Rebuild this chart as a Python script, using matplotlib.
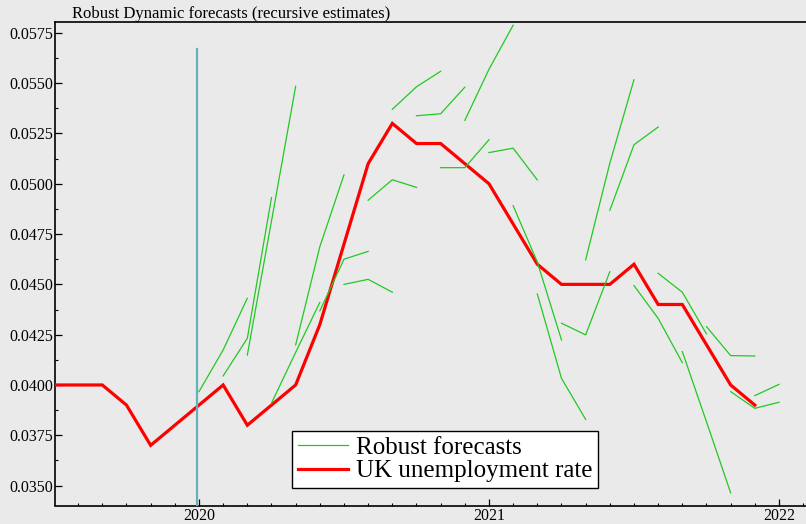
import numpy as np
import matplotlib
matplotlib.use("Agg")
import matplotlib.pyplot as plt
from matplotlib.ticker import MultipleLocator, FixedLocator
from matplotlib.lines import Line2D

plt.rcParams['font.family'] = ['Liberation Serif', 'DejaVu Serif']

# UK unemployment rate, monthly from July 2019 to December 2021
rate_start = 2019.5
uk_rate = [0.040, 0.040, 0.040, 0.039, 0.037, 0.038,
           0.039, 0.040, 0.038, 0.039, 0.040, 0.043,
           0.047, 0.051, 0.053, 0.052, 0.052, 0.051,
           0.050, 0.048, 0.046, 0.045, 0.045, 0.045,
           0.046, 0.044, 0.044, 0.042, 0.040, 0.039]

# Recursive robust forecasts: one path per origin month (Jan 2020 .. Dec 2021),
# steps 1, 2 and 3 of each path
fc_start = 2020.0
fc_step1 = [0.03967, 0.04045, 0.04149, 0.03910, 0.04199, 0.04368,
            0.04500, 0.04918, 0.05370, 0.05338, 0.05080, 0.05315,
            0.05155, 0.04891, 0.04452, 0.04307, 0.04622, 0.04868,
            0.04494, 0.04555, 0.04166, 0.04290, 0.03967, 0.03947]
fc_step2 = [0.04174, 0.04232, 0.04815, 0.04162, 0.04687, 0.04625,
            0.04525, 0.05020, 0.05482, 0.05348, 0.05080, 0.05569,
            0.05177, 0.04611, 0.04033, 0.04249, 0.05102, 0.05194,
            0.04331, 0.04461, 0.03817, 0.04146, 0.03884, 0.04003]
fc_step3 = [0.04431, 0.04931, 0.05484, 0.04410, 0.05044, 0.04664,
            0.04461, 0.04982, 0.05559, 0.05480, 0.05219, 0.05788,
            0.05019, 0.04224, 0.03829, 0.04563, 0.05517, 0.05282,
            0.04111, 0.04254, 0.03464, 0.04144, 0.03914, np.nan]

forecast_origin_line = 2019.994
forecast_line_top = 0.0567

year_ticks = [2020, 2021, 2022]
y_ticks = [0.0350, 0.0375, 0.0400, 0.0425, 0.0450, 0.0475,
           0.0500, 0.0525, 0.0550, 0.0575]

bg = '#eaeaea'
green = '#22c822'
red = '#ff0000'
teal = '#62b2b8'

fig = plt.figure(figsize=(8.06, 5.24), dpi=100, facecolor=bg)
W, H = 806, 524
left_px, right_px, top_px, bottom_px = 55, 809, 22, 505.5
ax = fig.add_axes([left_px / W, 1 - bottom_px / H,
                   (right_px - left_px) / W, (bottom_px - top_px) / H])
ax.set_facecolor(bg)

# Red actual series
x_rate = rate_start + np.arange(len(uk_rate)) / 12
ax.plot(x_rate, uk_rate, color=red, lw=2.3, zorder=3, solid_joinstyle='miter')

# Green forecast paths
for i in range(len(fc_step1)):
    vals = np.array([fc_step1[i], fc_step2[i], fc_step3[i]])
    xs = fc_start + (i + np.arange(3)) / 12
    ax.plot(xs, vals, color=green, lw=0.9, zorder=4)

# Forecast origin marker
ax.plot([forecast_origin_line, forecast_origin_line], [0.0, forecast_line_top],
        color=teal, lw=1.6, zorder=5)

x_left = 2019.5035
ax.set_xlim(x_left, x_left + (right_px - left_px) / 290)
ax.set_ylim(0.03401, 0.05804)

ax.xaxis.set_major_locator(FixedLocator(year_ticks))
ax.xaxis.set_minor_locator(MultipleLocator(1 / 12))
ax.set_xticklabels([str(y) for y in year_ticks])
ax.yaxis.set_major_locator(FixedLocator(y_ticks))
ax.yaxis.set_minor_locator(MultipleLocator(0.00125))
ax.set_yticklabels([f"{v:.4f}" for v in y_ticks])

ax.tick_params(axis='both', which='major', direction='in', length=5,
               width=0.9, labelsize=11.5, colors='black')
ax.tick_params(axis='both', which='minor', direction='in', length=2.5,
               width=0.8)
ax.tick_params(axis='y', which='both', pad=1.5)
ax.tick_params(axis='x', which='both', pad=2)
ax.tick_params(top=False, right=False, which='both')

for side in ['left', 'bottom', 'top']:
    ax.spines[side].set_linewidth(1.2)
    ax.spines[side].set_color('black')
ax.spines['right'].set_visible(False)

fig.text(72 / W, 1 - 18 / H, "Robust Dynamic forecasts (recursive estimates)",
         fontsize=12, va='baseline', ha='left')

handles = [Line2D([], [], color=green, lw=0.9),
           Line2D([], [], color=red, lw=2.3)]
leg = ax.legend(handles, ["Robust forecasts", "UK unemployment rate"],
                loc='lower left',
                bbox_to_anchor=((292 - left_px) / (right_px - left_px),
                                (bottom_px - 488) / (bottom_px - top_px)),
                borderaxespad=0, fontsize=18, frameon=True, fancybox=False,
                framealpha=1, facecolor='white', edgecolor='black',
                handlelength=2.0, handletextpad=0.35, borderpad=0.22,
                labelspacing=0.05)
leg.get_frame().set_linewidth(1.0)
leg.set_zorder(10)

fig.savefig("out.png", dpi=100, facecolor=bg)
